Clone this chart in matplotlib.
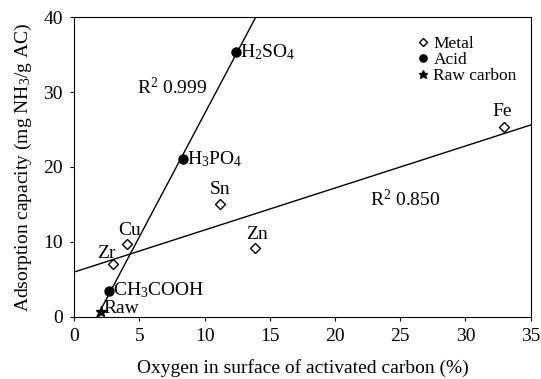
import numpy as np
import matplotlib.pyplot as plt

plt.rcParams['font.family'] = ['Liberation Serif', 'DejaVu Serif']
plt.rcParams['mathtext.fontset'] = 'custom'
plt.rcParams['mathtext.rm'] = 'Liberation Serif'
plt.rcParams['mathtext.it'] = 'Liberation Serif:italic'

# metal-impregnated carbons
metal_names = ['Zr', 'Cu', 'Sn', 'Zn', 'Fe']
metal_x = [3.0, 4.05, 11.15, 13.9, 32.95]
metal_y = [7.1, 9.7, 15.1, 9.15, 25.3]

# acid-treated carbons
acid_names = ['CH$_3$COOH', 'H$_3$PO$_4$', 'H$_2$SO$_4$']
acid_x = [2.65, 8.35, 12.4]
acid_y = [3.5, 21.1, 35.3]

# raw carbon
raw_x = [2.05]
raw_y = [0.7]

fig = plt.figure(figsize=(5.41, 3.79), dpi=100)
ax = fig.add_axes([0.137, 0.164, 0.844, 0.791])

# linear fits
xx = np.linspace(0, 35, 200)
k_acid, b_acid = np.polyfit(raw_x + acid_x, raw_y + acid_y, 1)
k_met, b_met = np.polyfit(metal_x, metal_y, 1)
ax.plot(xx, k_acid * xx + b_acid, 'k-', lw=1)
ax.plot(xx, k_met * xx + b_met, 'k-', lw=1)

ax.plot(metal_x, metal_y, 'D', ms=5, mfc='white', mec='black', mew=1,
        label='Metal', zorder=3)
ax.plot(acid_x, acid_y, 'o', ms=6.5, color='black', label='Acid', zorder=3)
ax.plot(raw_x, raw_y, '*', ms=8, color='black', label='Raw carbon', zorder=3)

fs = 14
# point labels
offsets = {'Zr': (-5, 1, 'center', 'bottom'), 'Cu': (2, 4, 'center', 'bottom'),
           'Sn': (0, 4, 'center', 'bottom'), 'Zn': (1, 4, 'center', 'bottom'),
           'Fe': (-1, 5, 'center', 'bottom')}
for name, x, y in zip(metal_names, metal_x, metal_y):
    dx, dy, ha, va = offsets[name]
    ax.annotate(name, (x, y), xytext=(dx, dy), textcoords='offset points',
                ha=ha, va=va, fontsize=fs)
for name, x, y in zip(acid_names, acid_x, acid_y):
    ax.annotate(name, (x, y), xytext=(3, 0), textcoords='offset points',
                ha='left', va='center', fontsize=fs)
ax.annotate('Raw', (raw_x[0], raw_y[0]), xytext=(2, 2), textcoords='offset points',
            ha='left', va='center', fontsize=fs)

ax.text(4.8, 30.6, 'R$^2$ 0.999', ha='left', va='center', fontsize=fs)
ax.text(22.7, 15.6, 'R$^2$ 0.850', ha='left', va='center', fontsize=fs)

ax.set_xlim(0, 35)
ax.set_ylim(0, 40)
ax.set_xticks(np.arange(0, 36, 5))
ax.set_yticks(np.arange(0, 41, 10))
ax.tick_params(direction='out', length=3, labelsize=fs, top=False, right=False,
               pad=5)
ax.set_xlabel('Oxygen in surface of activated carbon (%)', fontsize=fs, labelpad=10)
ax.set_ylabel('Adsorption capacity (mg NH$_3$/g AC)', fontsize=fs, labelpad=7)

leg = ax.legend(loc='upper right', bbox_to_anchor=(1.0, 0.985), frameon=False,
                fontsize=12.5, handlelength=0.6, handletextpad=0.3,
                labelspacing=0.0, borderpad=0.3, markerscale=0.8)

fig.savefig('out.png', dpi=100)
